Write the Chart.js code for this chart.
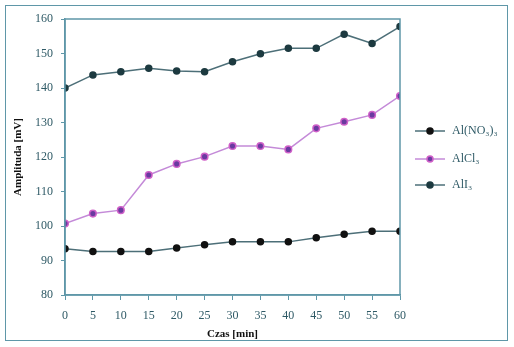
<!DOCTYPE html>
<html>
<head>
<meta charset="utf-8">
<script src="https://cdn.jsdelivr.net/npm/chart.js@4"></script>
<style>
html,body{margin:0;padding:0;background:#fff;}
#wrap{position:relative;width:514px;height:347px;}
#frame{position:absolute;left:5px;top:5px;width:503px;height:336px;border:1.5px solid #5f97a8;box-sizing:border-box;pointer-events:none;}
</style>
</head>
<body>
<div id="wrap"><canvas id="c" width="514" height="347"></canvas><div id="frame"></div></div>
<script>
const times = [0,5,10,15,20,25,30,35,40,45,50,55,60];
const alNO3 = [93.4,92.6,92.6,92.6,93.6,94.6,95.4,95.4,95.4,96.6,97.6,98.5,98.5];
const alCl3 = [100.7,103.6,104.6,114.8,118,120.1,123.2,123.2,122.2,128.3,130.2,132.2,137.7];
const alI3  = [140,143.8,144.7,145.7,144.9,144.7,147.6,149.9,151.5,151.5,155.6,152.9,157.8];
const seriesNames = ['Al(NO\u2083)\u2083','AlCl\u2083','AlI\u2083'];
const yTicks = [80,90,100,110,120,130,140,150,160];
const xTicks = times;

const axisColor = '#5f97a8';
const tickColor = '#2f5a66';
const font = 'Liberation Serif';

function pts(arr){ return times.map((t,i)=>({x:t,y:arr[i]})); }

const boxPlugin = {
  id:'box',
  afterDatasetsDraw(chart){
    const {ctx, chartArea:a} = chart;
    ctx.save();
    ctx.strokeStyle = axisColor; ctx.lineWidth = 1.5;
    ctx.strokeRect(a.left, a.top, a.right-a.left, a.bottom-a.top);
    ctx.restore();
  }
};
const legendPlugin = {
  id:'lineLegend',
  afterDraw(chart){
    const {ctx} = chart;
    const ys = [131,159,185];
    ctx.save();
    chart.data.datasets.forEach((ds,i)=>{
      const y = ys[i];
      ctx.strokeStyle = ds.borderColor; ctx.lineWidth = 1.5;
      ctx.beginPath(); ctx.moveTo(415,y); ctx.lineTo(445,y); ctx.stroke();
      ctx.fillStyle = ds.pointBackgroundColor;
      ctx.strokeStyle = ds.pointBorderColor;
      ctx.beginPath(); ctx.arc(430,y,3,0,Math.PI*2); ctx.fill(); ctx.stroke();
      ctx.fillStyle = tickColor;
      ctx.font = '12px "'+font+'"';
      ctx.textBaseline = 'middle';
      ctx.fillText(ds.label, 452, y);
    });
    ctx.restore();
  }
};

new Chart(document.getElementById('c'), {
  type:'line',
  data:{
    datasets:[
      {label:seriesNames[0], data:pts(alNO3), borderColor:'#4d6f78', borderWidth:1.5,
       pointBackgroundColor:'#111', pointBorderColor:'#111', pointRadius:3},
      {label:seriesNames[1], data:pts(alCl3), borderColor:'#c48ad8', borderWidth:1.5,
       pointBackgroundColor:'#6a3aa0', pointBorderColor:'#d060c8', pointRadius:3.3, pointBorderWidth:1.5},
      {label:seriesNames[2], data:pts(alI3), borderColor:'#4d6f78', borderWidth:1.5,
       pointBackgroundColor:'#1d3a40', pointBorderColor:'#1d3a40', pointRadius:3}
    ]
  },
  options:{
    responsive:false, animation:false,
    layout:{padding:{left:8,top:19,right:114,bottom:2}},
    plugins:{legend:{display:false}, tooltip:{enabled:false}},
    scales:{
      x:{type:'linear', min:0, max:60,
        afterBuildTicks(ax){ ax.ticks = xTicks.map(v=>({value:v})); },
        afterFit(ax){ ax.height = 50; },
        grid:{display:true, drawOnChartArea:false, tickLength:5, color:axisColor},
        border:{color:axisColor, width:1.5},
        ticks:{color:tickColor, font:{family:font,size:12}, padding:9, maxRotation:0, autoSkip:false},
        title:{display:true, text:'Czas [min]', color:'#111', font:{family:font,size:11,weight:'bold'}, padding:{top:5}}
      },
      y:{min:80, max:160,
        afterBuildTicks(ax){ ax.ticks = yTicks.map(v=>({value:v})); },
        afterFit(ax){ ax.width = 57; },
        grid:{display:true, drawOnChartArea:false, tickLength:4, color:axisColor},
        border:{color:axisColor, width:1.5},
        ticks:{color:tickColor, font:{family:font,size:12}, padding:8},
        title:{display:true, text:'Amplituda [mV]', color:'#111', font:{family:font,size:11,weight:'bold'}, padding:{bottom:2}}
      }
    }
  },
  plugins:[boxPlugin, legendPlugin]
});
</script>
</body>
</html>
